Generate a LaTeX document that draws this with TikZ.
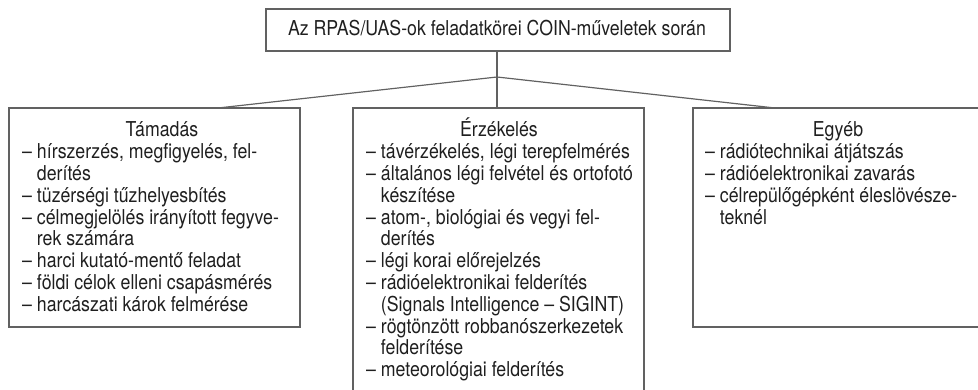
\documentclass[tikz,border=0pt]{standalone}
\usepackage{fontspec}
\setmainfont{TeX Gyre Heros}[FakeStretch=0.865]
\begin{document}
\begin{tikzpicture}[x=1pt,y=-1pt,
  ln/.style={draw=black!62, line width=1.2pt},
  box/.style={ln, outer sep=0pt, inner sep=0pt, anchor=north west},
  txt/.style={inner sep=0pt, anchor=base west, text=black!88, font=\fontsize{20.5}{21.8}\selectfont},
  ttl/.style={inner sep=0pt, anchor=base, text=black!88, font=\fontsize{20.5}{21.8}\selectfont}]
\useasboundingbox (0,0) rectangle (978,390);
% boxes
\node[box, minimum width=464, minimum height=42] (top) at (266,9) {};
\node[ttl] (toptext) at (497,36) {Az RPAS/UAS-ok feladatkörei COIN-műveletek során};
\node[box, minimum width=291, minimum height=219] (left) at (9,108) {};
\node[box, minimum width=291, minimum height=300] (mid) at (353,108) {};
\node[box, minimum width=300, minimum height=219] (right) at (693,108) {};
% connectors
\coordinate (j) at (497,77);
\coordinate (la) at (218,108);
\coordinate (ra) at (775,108);
\draw[ln] (top.south -| j) -- (j) -- (mid.north -| j);
\draw[ln] (la) -- (j) -- (ra);
% titles
\node[ttl] (lt) at (162,137) {Támadás};
\node[ttl] (mt) at (499,137) {Érzékelés};
\node[ttl] (rt) at (838,137) {Egyéb};
% left list
\foreach \t [count=\i] in {
  {– hírszerzés, megfigyelés, fel-},
  {\hphantom{– }derítés},
  {– tüzérségi tűzhelyesbítés},
  {– célmegjelölés irányított fegyve-},
  {\hphantom{– }rek számára},
  {– harci kutató-mentő feladat},
  {– földi célok elleni csapásmérés},
  {– harcászati károk felmérése}}
  \node[txt] (L\i) at (22,137+\i*21.8) {\t};
% middle list
\foreach \t [count=\i] in {
  {– távérzékelés, légi terepfelmérés},
  {– általános légi felvétel és ortofotó},
  {\hphantom{– }készítése},
  {– atom-, biológiai és vegyi fel-},
  {\hphantom{– }derítés},
  {– légi korai előrejelzés},
  {– rádióelektronikai felderítés},
  {\hphantom{– }(Signals Intelligence – SIGINT)},
  {– rögtönzött robbanószerkezetek},
  {\hphantom{– }felderítése},
  {– meteorológiai felderítés}}
  \node[txt] (M\i) at (366,137+\i*21.8) {\t};
% right list
\foreach \t [count=\i] in {
  {– rádiótechnikai átjátszás},
  {– rádióelektronikai zavarás},
  {– célrepülőgépként éleslövésze-},
  {\hphantom{– }teknél}}
  \node[txt] (R\i) at (705,137+\i*21.8) {\t};
\end{tikzpicture}
\end{document}
